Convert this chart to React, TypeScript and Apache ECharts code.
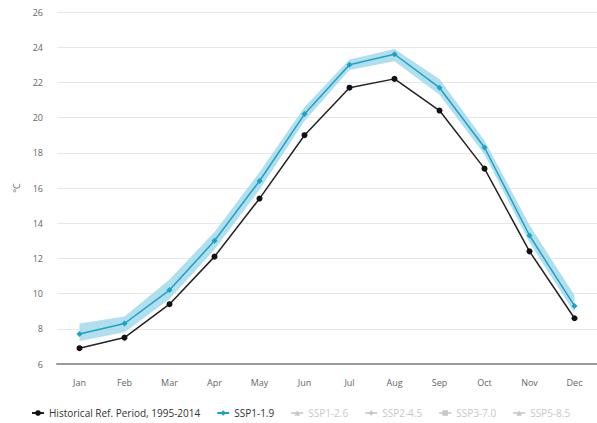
import React, { useEffect, useRef } from "react";
import * as echarts from "echarts";

const months = ["Jan", "Feb", "Mar", "Apr", "May", "Jun", "Jul", "Aug", "Sep", "Oct", "Nov", "Dec"];
const historical = [6.9, 7.5, 9.4, 12.1, 15.4, 19.0, 21.7, 22.2, 20.4, 17.1, 12.4, 8.6];
const ssp119 = [7.7, 8.3, 10.2, 13.0, 16.4, 20.2, 23.0, 23.6, 21.7, 18.3, 13.3, 9.3];
const ssp119Low = [7.3, 7.8, 9.7, 12.5, 15.9, 19.8, 22.7, 23.2, 21.3, 17.9, 12.9, 8.9];
const ssp119High = [8.3, 8.7, 10.8, 13.5, 16.9, 20.6, 23.3, 23.9, 22.2, 18.7, 13.9, 9.9];
const yTicks = [6, 8, 10, 12, 14, 16, 18, 20, 22, 24, 26];
const legendNames = ["Historical Ref. Period, 1995-2014", "SSP1-1.9", "SSP1-2.6", "SSP2-4.5", "SSP3-7.0", "SSP5-8.5"];

export default function App() {
  const ref = useRef<HTMLDivElement>(null);
  useEffect(() => {
    if (!ref.current) return;
    const chart = echarts.init(ref.current, undefined, { renderer: "svg" });
    const font = "'Open Sans', sans-serif";
    const bandDiff = ssp119High.map((v, i) => +(v - ssp119Low[i]).toFixed(2));
    chart.setOption({
      animation: false,
      textStyle: { fontFamily: font },
      grid: { left: 57, right: 0, top: 12, bottom: 59 },
      legend: {
        data: legendNames,
        bottom: 5,
        left: 31,
        width: 566,
        padding: 0,
        itemWidth: 12,
        itemHeight: 7,
        itemGap: 16,
        textStyle: { fontFamily: font, fontSize: 10, color: "#333" },
        inactiveColor: "#c8c8c8",
        selected: {
          "SSP1-2.6": false,
          "SSP2-4.5": false,
          "SSP3-7.0": false,
          "SSP5-8.5": false,
        },
      },
      xAxis: {
        type: "category",
        data: months,
        boundaryGap: true,
        axisLine: { lineStyle: { color: "#9a9a9a", width: 2 } },
        axisTick: { show: false },
        axisLabel: { color: "#666", fontSize: 9, margin: 14, fontFamily: font },
      },
      yAxis: {
        type: "value",
        min: yTicks[0],
        max: yTicks[yTicks.length - 1],
        interval: 2,
        name: "°C",
        nameLocation: "middle",
        nameRotate: 90,
        nameGap: 36,
        nameTextStyle: { color: "#666", fontSize: 9, fontFamily: font },
        axisLine: { show: false },
        axisTick: { show: false },
        axisLabel: { color: "#666", fontSize: 9, margin: 14, fontFamily: font },
        splitLine: { lineStyle: { color: "#e8e8e8", width: 1 } },
      },
      series: [
        {
          name: "band-low",
          type: "line",
          data: ssp119Low,
          stack: "band",
          symbol: "none",
          lineStyle: { opacity: 0 },
          silent: true,
          z: 1,
        },
        {
          name: "band-diff",
          type: "line",
          data: bandDiff,
          stack: "band",
          symbol: "none",
          lineStyle: { opacity: 0 },
          areaStyle: { color: "#a3d9ea", opacity: 0.85 },
          silent: true,
          z: 1,
        },
        {
          name: legendNames[0],
          type: "line",
          data: historical,
          color: "#111111",
          symbol: "circle",
          symbolSize: 6,
          lineStyle: { width: 1.5, color: "#222" },
          itemStyle: { color: "#111" },
          z: 3,
        },
        {
          name: legendNames[1],
          type: "line",
          data: ssp119,
          color: "#1aa3c6",
          symbol: "diamond",
          symbolSize: 6,
          lineStyle: { width: 1.5, color: "#1aa3c6" },
          itemStyle: { color: "#1aa3c6" },
          z: 4,
        },
        { name: legendNames[2], type: "line", data: [], symbol: "triangle", color: "#888" },
        { name: legendNames[3], type: "line", data: [], symbol: "diamond", color: "#888" },
        { name: legendNames[4], type: "line", data: [], symbol: "rect", color: "#888" },
        { name: legendNames[5], type: "line", data: [], symbol: "triangle", color: "#888" },
      ],
    });
    return () => chart.dispose();
  }, []);
  return <div ref={ref} style={{ width: 597, height: 423, position: "absolute", left: 0, top: 0 }} />;
}
